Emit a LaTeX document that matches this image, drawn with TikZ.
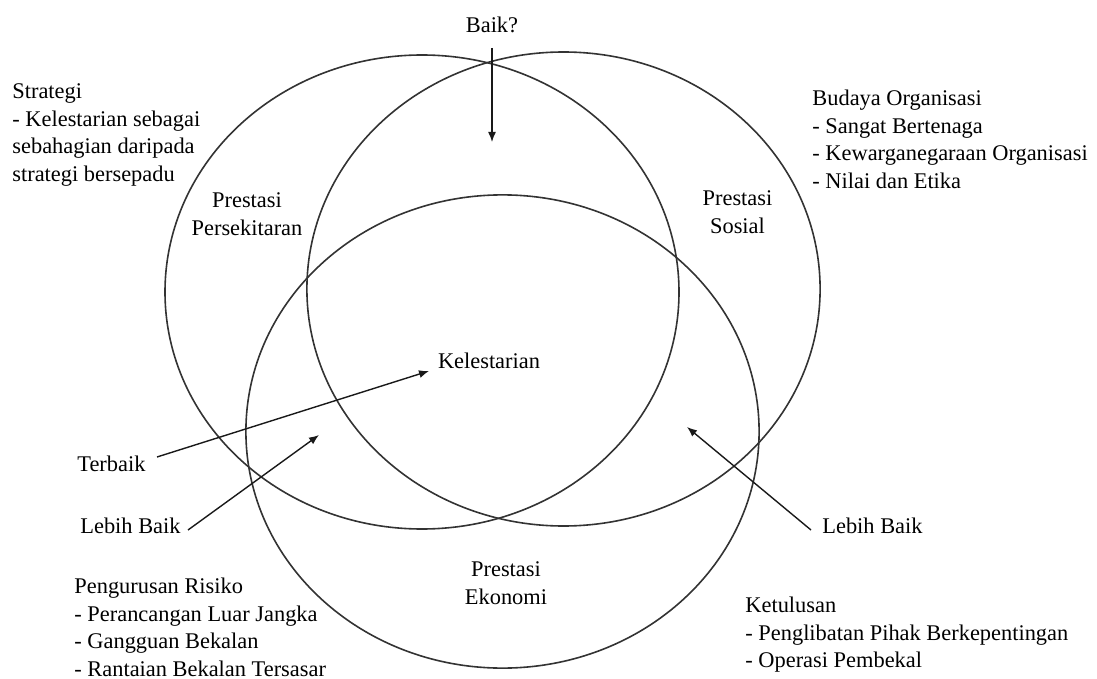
\documentclass[tikz,border=0pt]{standalone}
\usepackage{fontspec}
\setmainfont{Liberation Serif}
\usetikzlibrary{arrows.meta}
\tikzset{
  ring/.style={draw=black!80, line width=0.8pt},
  arr/.style={draw=black!90, line width=0.7pt, -{Latex[length=5pt,width=4pt]}},
  lbl/.style={inner sep=0pt, text=black, font=\fontsize{11.2}{13.85}\selectfont},
  blockl/.style={lbl, align=left, anchor=north west},
  blockc/.style={lbl, align=center, anchor=north},
}
\begin{document}
\begin{tikzpicture}[x=0.5pt,y=-0.5pt]
\useasboundingbox (0,0) rectangle (1097,679);
% the three rings
\draw[ring] (422,292) ellipse [x radius=128.5pt, y radius=118.5pt];
\draw[ring] (563.5,289) ellipse [x radius=128.3pt, y radius=118.5pt];
\draw[ring] (502.5,431.5) ellipse [x radius=128.3pt, y radius=118.3pt];
% labels
\node[lbl, anchor=base] (baik) at (492,33) {Baik?};
\node[blockl] (strat) at (12,78.7) {\strut Strategi\\- Kelestarian sebagai\\sebahagian daripada\\strategi bersepadu};
\node[blockl] (budaya) at (812,85.7) {\strut Budaya Organisasi\\- Sangat Bertenaga\\- Kewarganegaraan Organisasi\\- Nilai dan Etika};
\node[blockc] (persek) at (247,187.7) {\strut Prestasi\\Persekitaran};
\node[blockc] (sosial) at (737.5,185.7) {\strut Prestasi\\Sosial};
\node[lbl, anchor=base] (kelest) at (489,368) {Kelestarian};
\node[blockc] (ekonomi) at (506,556.7) {\strut Prestasi\\Ekonomi};
\node[lbl, anchor=base west] (terbaik) at (77,471) {Terbaik};
\node[lbl, anchor=base west] (lebihL) at (80,533) {Lebih Baik};
\node[lbl, anchor=base west] (lebihR) at (822,533) {Lebih Baik};
\node[blockl] (risiko) at (74,573.7) {\strut Pengurusan Risiko\\- Perancangan Luar Jangka\\- Gangguan Bekalan\\- Rantaian Bekalan Tersasar};
\node[blockl] (tulus) at (745,592.7) {\strut Ketulusan\\- Penglibatan Pihak Berkepentingan\\- Operasi Pembekal};
% arrow ends
\coordinate (baikS) at (492,48);
\coordinate (baikT) at (492,142);
\coordinate (terbS) at (157,457);
\coordinate (terbT) at (429,371);
\coordinate (lebLS) at (188,530);
\coordinate (lebLT) at (319,435);
\coordinate (lebRS) at (811,530);
\coordinate (lebRT) at (687,427);
% arrows
\draw[arr] (baikS) -- (baikT);
\draw[arr] (terbS) -- (terbT);
\draw[arr] (lebLS) -- (lebLT);
\draw[arr] (lebRS) -- (lebRT);
\end{tikzpicture}
\end{document}
